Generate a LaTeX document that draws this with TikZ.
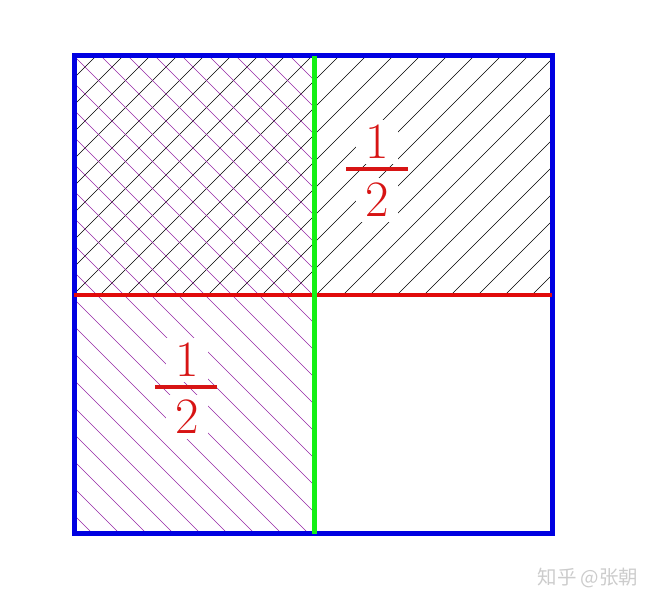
\documentclass[tikz,border=0pt]{standalone}
\usepackage{fontspec}
\newfontfamily\cjkfont{Noto Sans CJK SC}
\usetikzlibrary{calc}

\definecolor{blueline}{RGB}{0,0,225}
\definecolor{greenline}{RGB}{20,240,20}
\definecolor{redline}{RGB}{225,10,10}
\definecolor{hatchpurple}{RGB}{150,40,165}
\definecolor{labelred}{RGB}{215,20,20}

\begin{document}
\begin{tikzpicture}[%
    x=1pt, y=1pt,
    border/.style={draw=blueline, line width=5pt, line join=miter},
    vline/.style={draw=greenline, line width=5pt},
    hline/.style={draw=redline, line width=4.3pt},
    blackhatch/.style={draw=black, line width=0.6pt},
    purplehatch/.style={draw=hatchpurple, line width=0.6pt},
    digit/.style={text=labelred, fill=white, font=\fontsize{51}{60}\selectfont,
                  inner xsep=9pt, inner ysep=5pt},
    fracbar/.style={draw=labelred, line width=4pt},
    watermark/.style={text=gray!40, font=\cjkfont\fontsize{19.5}{22}\selectfont},
    ]

\useasboundingbox (0,0) rectangle (656,607);

%==================================================
% Coordinates
%==================================================
\coordinate (BL) at (74,73);
\coordinate (TR) at (552,551);
\coordinate (ML) at (74,312);
\coordinate (MR) at (552,312);
\coordinate (MB) at (314,73);
\coordinate (MT) at (314,551);

%==================================================
% Hatching
%==================================================
% Upper half
\begin{scope}
  \clip (ML) rectangle (TR);
  \foreach \k in {-27,...,1} {
    \draw[blackhatch] (0,455+27*\k) -- (656,1111+27*\k);
  }
\end{scope}

% Left half
\begin{scope}
  \clip (BL) rectangle (MT);
  \foreach \k in {-1,...,27} {
    \draw[purplehatch] (0,166+27*\k) -- (656,-490+27*\k);
  }
\end{scope}

%==================================================
% Square and dividing lines
%==================================================
\draw[border] (BL) rectangle (TR);
\draw[hline] (ML) -- (MR);
\draw[vline] (MB) -- (MT);

%==================================================
% Labels
%==================================================
% Upper right
\node[digit] (un) at (377,465) {1};
\node[digit] (ud) at (377,407) {2};
\coordinate (ub) at (377,438);
\draw[fracbar] ($(ub)+(-31,0)$) -- ($(ub)+(31,0)$);

% Lower left
\node[digit] (ln) at (187,247) {1};
\node[digit] (ld) at (187,190) {2};
\coordinate (lb) at (186,220);
\draw[fracbar] ($(lb)+(-31,0)$) -- ($(lb)+(31,0)$);

%==================================================
% Watermark
%==================================================
\node[watermark] (wm) at (588,29) {知乎 @张朝};

\end{tikzpicture}
\end{document}
